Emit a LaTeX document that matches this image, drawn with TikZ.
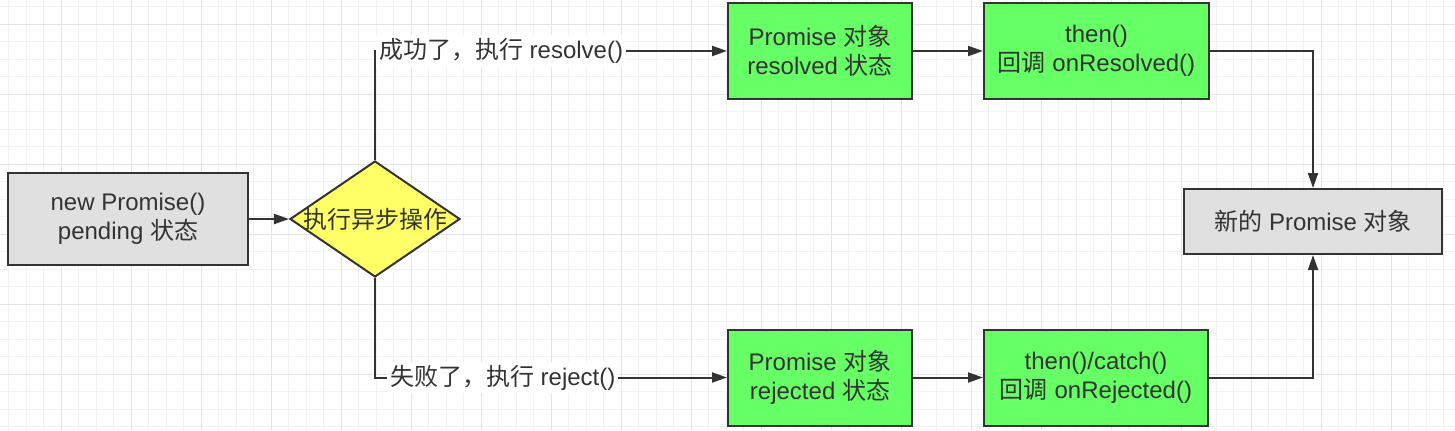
\documentclass[tikz,border=0pt]{standalone}
\usepackage{fontspec}
\setmainfont{Liberation Sans}
\newfontfamily\zhfont{Noto Sans CJK SC}
\newcommand{\zh}[1]{{\zhfont #1}}
\usetikzlibrary{positioning,shapes.geometric,arrows.meta}
\definecolor{lineGrey}{HTML}{333333}
\definecolor{boxGrey}{HTML}{E0E0E0}
\definecolor{boxGreen}{HTML}{66FF66}
\definecolor{boxYellow}{HTML}{FFFF66}
\definecolor{gridMinor}{HTML}{F2F2F2}
\definecolor{gridMajor}{HTML}{E4E4E4}

\begin{document}
\begin{tikzpicture}[font=\fontsize{12pt}{14.7pt}\selectfont,
    box/.style={draw=lineGrey,line width=1pt,text=lineGrey,align=center,
      inner sep=0pt,minimum height=48pt},
    greybox/.style={box,fill=boxGrey},
    greenbox/.style={box,fill=boxGreen},
    decide/.style={diamond,draw=lineGrey,line width=1pt,fill=boxYellow,
      inner sep=0pt,minimum width=85pt,minimum height=58pt},
    flow/.style={draw=lineGrey,line width=1pt,-{Triangle[length=7.5pt,width=5pt]}},
    elabel/.style={fill=white,text=lineGrey,inner sep=1.5pt,anchor=west}]
 \useasboundingbox (0,0) rectangle (727.5pt,215pt);
 % background grid
 \draw[gridMinor,line width=0.5pt,step=8.75pt,shift={(4.25pt,1.65pt)}]
  (-4.25pt,-1.65pt) grid (723.25pt,213.35pt);
 \draw[gridMajor,line width=0.5pt,step=35pt,shift={(30.75pt,27.9pt)}]
  (-30.75pt,-27.9pt) grid (696.75pt,187.1pt);
 \node[greybox,minimum width=120pt,minimum height=46pt] (new) at (64pt,105.5pt)
  {new Promise()\\pending \zh{状态}};
 \node[decide,right=20pt of new,label={[text=lineGrey]center:\zh{执行异步操作}}] (op) {};
 \node[greenbox,minimum width=92pt,above right=59.5pt and 133pt of op.east] (res)
  {Promise \zh{对象}\\resolved \zh{状态}};
 \node[greenbox,minimum width=92pt,below right=54.75pt and 133pt of op.east] (rej)
  {Promise \zh{对象}\\rejected \zh{状态}};
 \node[greenbox,minimum width=112.5pt,right=35pt of res] (resThen)
  {then()\\\zh{回调} onResolved()};
 \node[greenbox,minimum width=112pt,right=35pt of rej] (rejThen)
  {then()/catch()\\\zh{回调} onRejected()};
 \node[greybox,minimum width=129pt,minimum height=32.5pt] (final) at (656.5pt,104.25pt)
  {\zh{新的} Promise \zh{对象}};
 \draw[flow] (new) -- (op);
 \draw[flow] (op.north) |- node[elabel,pos=0.5]{\zh{成功了，执行} resolve()} (res.west);
 \draw[flow] (op.south) |- node[elabel,pos=0.5,xshift=5.5pt]{\zh{失败了，执行} reject()} (rej.west);
 \draw[flow] (res) -- (resThen);
 \draw[flow] (rej) -- (rejThen);
 \draw[flow] (resThen.east) -| (final.north);
 \draw[flow] (rejThen.east) -| (final.south);
\end{tikzpicture}
\end{document}
